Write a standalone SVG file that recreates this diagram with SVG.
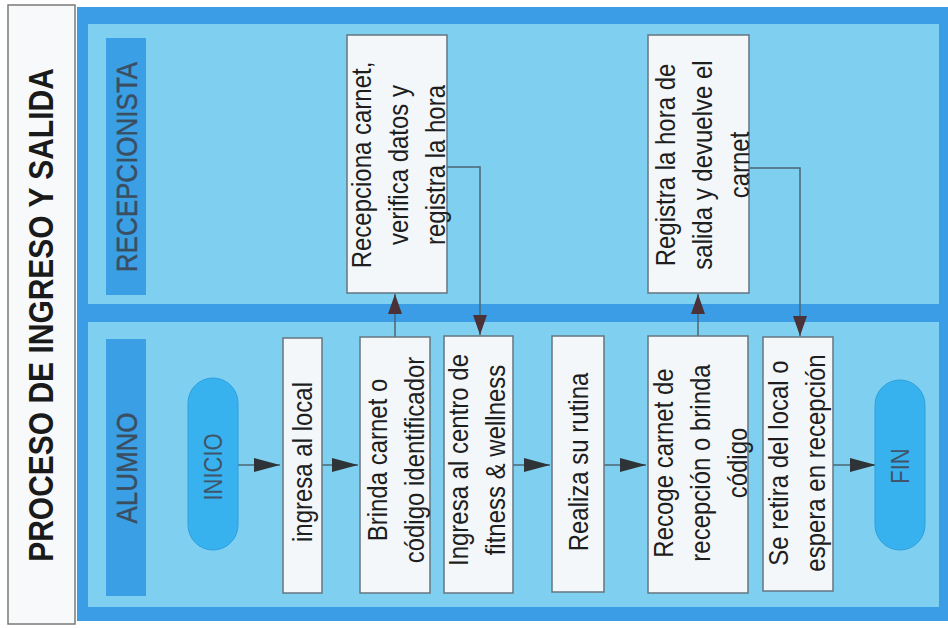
<svg xmlns="http://www.w3.org/2000/svg" width="948" height="628" viewBox="0 0 948 628">
<defs>
<style>
.lane{fill:#7fd0f0}
.bar{fill:#3b9fe6}
.box{fill:#f3f7f9;stroke:#66757f;stroke-width:1.5}
.pill{fill:#38b2ef;stroke:#2f9fdf;stroke-width:1}
.t{font-family:"Liberation Sans",Arial,sans-serif;font-size:24px;fill:#1e1e1e;text-anchor:middle}
.lbl{font-family:"Liberation Sans",Arial,sans-serif;font-size:26px;fill:#3a4e62;stroke:#3a4e62;stroke-width:0.4;text-anchor:middle}
.pt{font-family:"Liberation Sans",Arial,sans-serif;font-size:22px;fill:#3f556b;text-anchor:middle}
.title{font-family:"Liberation Sans",Arial,sans-serif;font-size:30px;font-weight:bold;fill:#1a1a1a;text-anchor:middle}
.c{fill:none;stroke:#4a6672;stroke-width:1.5}
</style>
<marker id="ah" viewBox="0 0 26 14" refX="26" refY="7" markerWidth="26" markerHeight="14" markerUnits="userSpaceOnUse" orient="auto">
<path d="M0,0 L26,7 L0,14 z" fill="#2e3338"/>
</marker>
<marker id="av" viewBox="0 0 20 14" refX="20" refY="7" markerWidth="20" markerHeight="14" markerUnits="userSpaceOnUse" orient="auto">
<path d="M0,0 L20,7 L0,14 z" fill="#4a3238"/>
</marker>
</defs>

<g id="title-panel">
<rect x="8" y="5" width="67" height="619" fill="#f7f9fa" stroke="#7a7a7a" stroke-width="1.5"/>
<text class="title" transform="translate(40.5,315) rotate(-90) scale(1,1.17)" y="10.5">PROCESO DE INGRESO Y SALIDA</text>
</g>

<g id="pool">
<rect x="77" y="7" width="871" height="614" fill="#3a9de6"/>
</g>

<g id="lane-recepcionista">
<rect class="lane" x="88" y="24" width="851" height="280"/>
<rect class="bar" x="106" y="38" width="40" height="257"/>
<text class="lbl" transform="translate(126,167) rotate(-90) scale(1,1.17)" y="9">RECEPCIONISTA</text>
</g>

<g id="lane-alumno">
<rect class="lane" x="88" y="322" width="851" height="285"/>
<rect class="bar" x="106" y="339" width="40" height="257"/>
<text class="lbl" transform="translate(126,468) rotate(-90) scale(1,1.17)" y="9">ALUMNO</text>
</g>

<g id="connectors">
<line class="c" x1="238" y1="465" x2="280" y2="465" marker-end="url(#ah)"/>
<line class="c" x1="322" y1="465" x2="358" y2="465" marker-end="url(#ah)"/>
<line class="c" x1="513" y1="465" x2="550" y2="465" marker-end="url(#ah)"/>
<line class="c" x1="604" y1="465" x2="646" y2="465" marker-end="url(#ah)"/>
<line class="c" x1="833" y1="465" x2="876" y2="465" marker-end="url(#ah)"/>
<line class="c" x1="395" y1="337" x2="395" y2="294" marker-end="url(#av)"/>
<path class="c" d="M447,167 H480 V335" marker-end="url(#av)"/>
<line class="c" x1="698" y1="336" x2="698" y2="294" marker-end="url(#av)"/>
<path class="c" d="M749,168 H800 V336" marker-end="url(#av)"/>
</g>

<g id="inicio">
<rect class="pill" x="188" y="378" width="50" height="172" rx="25"/>
<text class="pt" transform="translate(213,467) rotate(-90) scale(1,1.17)" y="8">INICIO</text>
</g>

<g id="ingresa-local">
<rect class="box" x="283" y="338" width="39" height="255"/>
<text class="t" transform="translate(302,462) rotate(-90) scale(1,1.17)" y="8.5">ingresa al local</text>
</g>

<g id="brinda-carnet">
<rect class="box" x="360" y="337" width="70" height="256"/>
<text class="t" transform="translate(396,460) rotate(-90) scale(1,1.17)"><tspan x="0" y="-7.3">Brinda carnet o</tspan><tspan x="0" y="24.2">código identificador</tspan></text>
</g>

<g id="ingresa-centro">
<rect class="box" x="444" y="336" width="69" height="257"/>
<text class="t" transform="translate(477,460) rotate(-90) scale(1,1.17)"><tspan x="0" y="-7.3">Ingresa al centro de</tspan><tspan x="0" y="24.2">fitness &amp; wellness</tspan></text>
</g>

<g id="realiza-rutina">
<rect class="box" x="552" y="336" width="52" height="256"/>
<text class="t" transform="translate(578,462) rotate(-90) scale(1,1.17)" y="8.5">Realiza su rutina</text>
</g>

<g id="recoge-carnet">
<rect class="box" x="648" y="336" width="100" height="257"/>
<text class="t" transform="translate(700,463) rotate(-90) scale(1,1.17)"><tspan x="0" y="-23">Recoge carnet de</tspan><tspan x="0" y="8.5">recepción o brinda</tspan><tspan x="0" y="40">código</tspan></text>
</g>

<g id="se-retira">
<rect class="box" x="763" y="337" width="70" height="254"/>
<text class="t" transform="translate(797,463) rotate(-90) scale(1,1.17)"><tspan x="0" y="-7.3">Se retira del local o</tspan><tspan x="0" y="24.2">espera en recepción</tspan></text>
</g>

<g id="fin">
<rect class="pill" x="875" y="380" width="50" height="170" rx="25"/>
<text class="pt" transform="translate(900,466) rotate(-90) scale(1,1.17)" y="8">FIN</text>
</g>

<g id="recepciona-carnet">
<rect class="box" x="347" y="35" width="100" height="258"/>
<text class="t" transform="translate(398,165) rotate(-90) scale(1,1.17)"><tspan x="0" y="-23">Recepciona carnet,</tspan><tspan x="0" y="8.5">verifica datos y</tspan><tspan x="0" y="40">registra la hora</tspan></text>
</g>

<g id="registra-salida">
<rect class="box" x="648" y="35" width="101" height="258"/>
<text class="t" transform="translate(702,165) rotate(-90) scale(1,1.17)"><tspan x="0" y="-23">Registra la hora de</tspan><tspan x="0" y="8.5">salida y devuelve el</tspan><tspan x="0" y="40">carnet</tspan></text>
</g>
</svg>
